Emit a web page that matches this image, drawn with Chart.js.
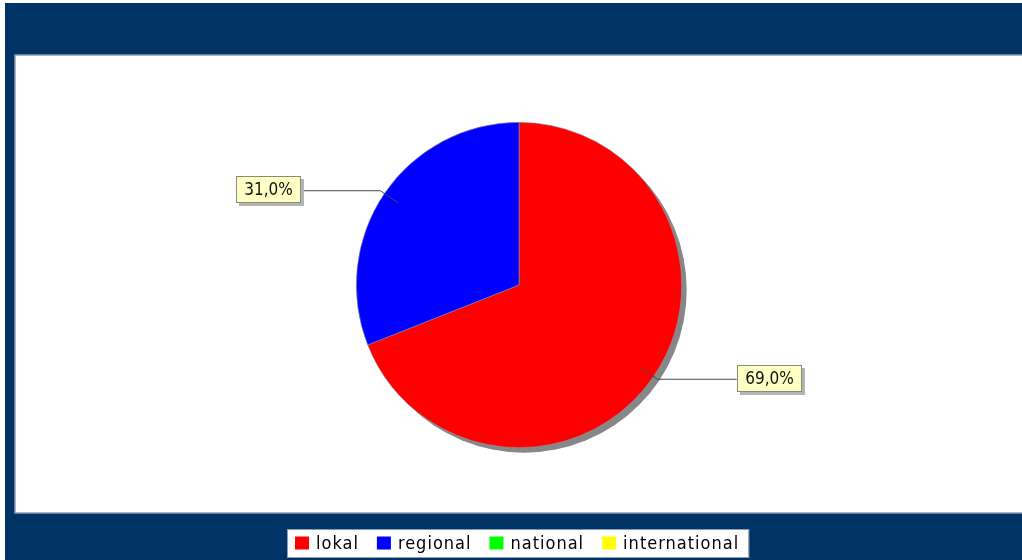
<!DOCTYPE html>
<html>
<head>
<meta charset="utf-8">
<script src="https://cdn.jsdelivr.net/npm/chart.js@4"></script>
<style>
  html, body { margin: 0; padding: 0; background: #fff; }
  #chart { display: block; }
</style>
</head>
<body>
<canvas id="chart" width="1022" height="560"></canvas>
<script>
// Verteilung der Reichweite
const categories = ['lokal', 'regional', 'national', 'international'];
const shares = [69.0, 31.0, 0, 0];
const sliceColors = ['#ff0000', '#0000ff', '#00ff00', '#ffff00'];

const NAVY = '#003366';
const FONT = '"DejaVu Sans Condensed", "DejaVu Sans", sans-serif';

const total = shares.reduce((a, b) => a + b, 0);
function percentText(v) {
    return (v / total * 100).toFixed(1).replace('.', ',') + '%';
}

// Rahmen: dunkelblauer Hintergrund und weisse Zeichenflaeche
const framePlugin = {
    id: 'frame',
    beforeDraw(chart) {
        const ctx = chart.ctx;
        ctx.save();
        ctx.fillStyle = '#fff';
        ctx.fillRect(0, 0, chart.width, chart.height);
        ctx.fillStyle = NAVY;
        ctx.fillRect(5, 3, chart.width - 5, chart.height - 3);
        ctx.fillStyle = '#fff';
        ctx.fillRect(15, 55, chart.width - 15, 458);
        ctx.strokeStyle = '#8d9cad';
        ctx.lineWidth = 1.5;
        ctx.strokeRect(15, 55, chart.width - 14, 458);
        ctx.restore();
    }
};

// Schatten hinter dem Kuchen
const shadowPlugin = {
    id: 'pieShadow',
    beforeDatasetsDraw(chart) {
        const arc = chart.getDatasetMeta(0).data[0];
        if (!arc) return;
        const ctx = chart.ctx;
        ctx.save();
        ctx.fillStyle = '#878787';
        ctx.beginPath();
        ctx.arc(arc.x + 5, arc.y + 5, arc.outerRadius, 0, Math.PI * 2);
        ctx.fill();
        ctx.restore();
    }
};

// Prozent-Beschriftungen mit Verbindungslinien
const labelPlugin = {
    id: 'sliceLabels',
    afterDatasetsDraw(chart) {
        const ctx = chart.ctx;
        const meta = chart.getDatasetMeta(0);
        ctx.save();
        ctx.font = '17px ' + FONT;
        ctx.textBaseline = 'middle';
        meta.data.forEach((arc, i) => {
            if (!shares[i]) return;
            const mid = (arc.startAngle + arc.endAngle) / 2;
            const cos = Math.cos(mid), sin = Math.sin(mid);
            const r = arc.outerRadius;
            const ax = arc.x + cos * r * 0.9, ay = arc.y + sin * r * 0.9;
            const ex = arc.x + cos * (r + 5), ey = arc.y + sin * (r + 5);
            const right = cos > 0;
            const lx = ex + (right ? 79 : -79);

            ctx.strokeStyle = '#4a4a4a';
            ctx.lineWidth = 1;
            ctx.beginPath();
            ctx.moveTo(ax, ay);
            ctx.lineTo(ex, ey);
            ctx.lineTo(lx, ey);
            ctx.stroke();

            const text = percentText(shares[i]);
            const w = Math.round(ctx.measureText(text).width + 16);
            const h = 27;
            const bx = Math.round(right ? lx : lx - w);
            const by = Math.round(ey - h / 2 - 1);
            ctx.fillStyle = '#b4b4b4';
            ctx.fillRect(bx + 3, by + 3, w, h);
            ctx.fillStyle = '#ffffc4';
            ctx.fillRect(bx, by, w, h);
            ctx.strokeStyle = '#8a8a7a';
            ctx.strokeRect(bx + 0.5, by + 0.5, w - 1, h - 1);
            ctx.fillStyle = '#111';
            ctx.textAlign = 'center';
            ctx.fillText(text, bx + w / 2, by + h / 2 + 1);
        });
        ctx.restore();
    }
};

// Legende unten im weissen Kasten
const legendPlugin = {
    id: 'boxLegend',
    afterDraw(chart) {
        const ctx = chart.ctx;
        ctx.save();
        ctx.font = '18px ' + FONT;
        ctx.letterSpacing = '1px';
        ctx.textBaseline = 'middle';
        const sq = 14, gap = 7, between = 18, padL = 8, padR = 10;
        const widths = categories.map(c => ctx.measureText(c).width);
        let boxW = padL + padR;
        widths.forEach((w, i) => { boxW += sq + gap + w + (i < widths.length - 1 ? between : 0); });
        const cx = 518.5;
        const bx = Math.round(cx - boxW / 2), by = 529, bh = 29;
        ctx.fillStyle = '#fff';
        ctx.fillRect(bx, by, boxW, bh);
        ctx.strokeStyle = '#8d9cad';
        ctx.lineWidth = 1;
        ctx.strokeRect(bx + 0.5, by + 0.5, boxW - 1, bh - 1);
        let x = bx + padL;
        const my = by + bh / 2;
        categories.forEach((c, i) => {
            ctx.fillStyle = sliceColors[i];
            ctx.fillRect(x, my - 7, sq, 13);
            x += sq + gap;
            ctx.fillStyle = '#000';
            ctx.fillText(c, x, my + 1);
            x += widths[i] + between;
        });
        ctx.restore();
    }
};

new Chart(document.getElementById('chart'), {
    type: 'pie',
    data: {
        labels: categories,
        datasets: [{
            data: shares,
            backgroundColor: sliceColors,
            borderColor: '#9090a8',
            borderWidth: shares.map(v => v ? 0.6 : 0)
        }]
    },
    options: {
        responsive: false,
        animation: false,
        layout: {
            padding: { top: 122, bottom: 112, left: 356, right: 340 }
        },
        plugins: {
            legend: { display: false },
            tooltip: { enabled: false }
        }
    },
    plugins: [framePlugin, shadowPlugin, labelPlugin, legendPlugin]
});
</script>
</body>
</html>
